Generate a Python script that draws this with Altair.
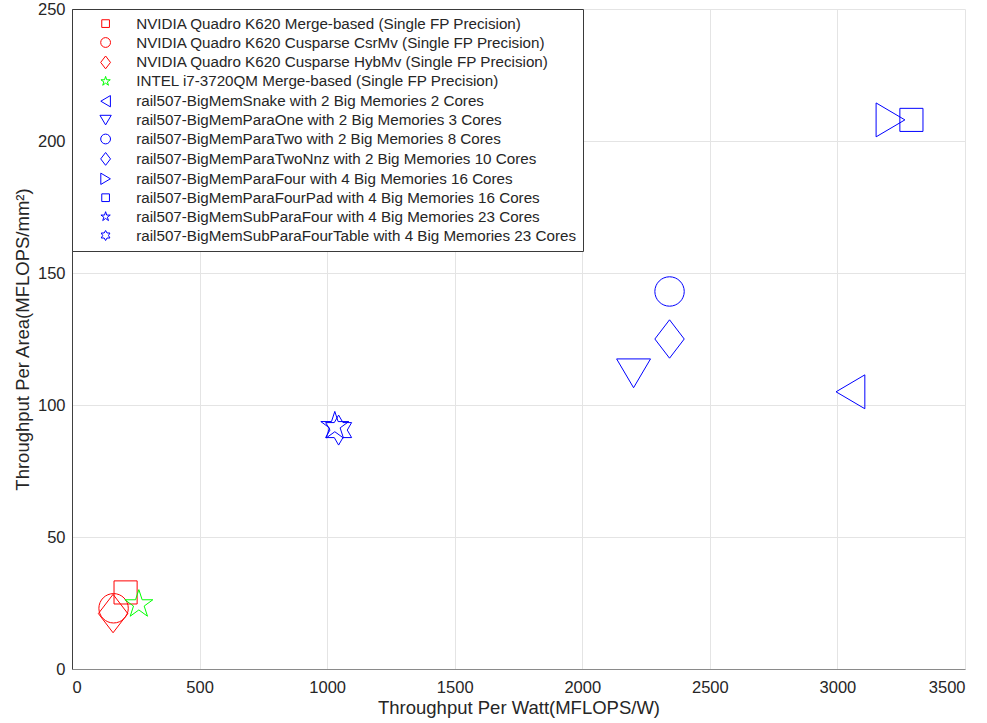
import math
import altair as alt
import pandas as pd

# ---- data ----
series = [
    "NVIDIA Quadro K620 Merge-based (Single FP Precision)",
    "NVIDIA Quadro K620 Cusparse CsrMv (Single FP Precision)",
    "NVIDIA Quadro K620 Cusparse HybMv (Single FP Precision)",
    "INTEL i7-3720QM Merge-based (Single FP Precision)",
    "rail507-BigMemSnake with 2 Big Memories 2 Cores",
    "rail507-BigMemParaOne with 2 Big Memories 3 Cores",
    "rail507-BigMemParaTwo with 2 Big Memories 8 Cores",
    "rail507-BigMemParaTwoNnz with 2 Big Memories 10 Cores",
    "rail507-BigMemParaFour with 4 Big Memories 16 Cores",
    "rail507-BigMemParaFourPad with 4 Big Memories 16 Cores",
    "rail507-BigMemSubParaFour with 4 Big Memories 23 Cores",
    "rail507-BigMemSubParaFourTable with 4 Big Memories 23 Cores",
]
throughput_per_watt = [210, 163, 161, 262, 3051, 2201, 2342, 2342, 3208, 3290, 1030, 1045]
throughput_per_area = [29, 23, 21, 24.5, 105, 112, 143, 125, 208, 208, 92, 90.5]
colors = ["#ff0000", "#ff0000", "#ff0000", "#00ff00",
          "#0000ff", "#0000ff", "#0000ff", "#0000ff",
          "#0000ff", "#0000ff", "#0000ff", "#0000ff"]
x_ticks = [0, 500, 1000, 1500, 2000, 2500, 3000, 3500]
y_ticks = [0, 50, 100, 150, 200, 250]

# ---- marker shapes (SVG paths in unit space) ----
def poly(pts):
    return "M" + " L".join(f"{x:.3f},{y:.3f}" for x, y in pts) + " Z"

def star(n, R, r):
    pts = []
    for k in range(2 * n):
        ang = math.radians(-90 + k * 180.0 / n)
        rad = R if k % 2 == 0 else r
        pts.append((rad * math.cos(ang), rad * math.sin(ang)))
    return poly(pts)

circle = "M-0.98,0 A0.98,0.98 0 1 0 0.98,0 A0.98,0.98 0 1 0 -0.98,0 Z"
square = poly([(-0.77, -0.77), (0.77, -0.77), (0.77, 0.77), (-0.77, 0.77)])
diamond = poly([(0, -1.28), (0.98, 0), (0, 1.28), (-0.98, 0)])
tri_down = poly([(-1.13, -0.96), (1.13, -0.96), (0, 0.96)])
tri_left = poly([(-0.96, 0), (0.96, -1.13), (0.96, 1.13)])
tri_right = poly([(0.96, 0), (-0.96, -1.13), (-0.96, 1.13)])
pentagram = star(5, 0.98, 0.98 * 0.382)
hexagram = star(6, 1.0, 1.0 / math.sqrt(3))

shapes = [square, circle, diamond, pentagram,
          tri_left, tri_down, circle, diamond,
          tri_right, square, pentagram, hexagram]

df = pd.DataFrame({"series": series, "x": throughput_per_watt, "y": throughput_per_area})

FONT = "Liberation Sans"
TXT = "#262626"

chart = alt.Chart(df).mark_point(filled=False, size=900, strokeWidth=1, opacity=1).encode(
    x=alt.X("x:Q",
            scale=alt.Scale(domain=[0, 3500], nice=False, zero=False),
            axis=alt.Axis(values=x_ticks, format="d", title="Throughput Per Watt(MFLOPS/W)",
                          tickSize=0, labelPadding=10, titlePadding=3,
                          domainColor="#8a8a8a")),
    y=alt.Y("y:Q",
            scale=alt.Scale(domain=[0, 250], nice=False, zero=False),
            axis=alt.Axis(values=y_ticks, format="d", title="Throughput Per Area(MFLOPS/mm²)",
                          tickSize=0, labelPadding=7, titlePadding=5,
                          domainColor="#404040")),
    color=alt.Color("series:N",
                    scale=alt.Scale(domain=series, range=colors),
                    legend=alt.Legend(title=None, orient="none", legendX=0, legendY=0,
                                      symbolSize=100, symbolStrokeWidth=1,
                                      symbolOffset=19, labelOffset=23,
                                      labelFontSize=15.2, labelFont=FONT, labelColor=TXT,
                                      labelLimit=700, rowPadding=2.9,
                                      padding=7, strokeColor="#3a3a3a", fillColor="white",
                                      cornerRadius=0, symbolFillColor="transparent")),
    shape=alt.Shape("series:N",
                    scale=alt.Scale(domain=series, range=shapes),
                    legend=alt.Legend(title=None, orient="none", legendX=0, legendY=0)),
).properties(
    width=893, height=660,
    padding={"left": 72, "top": 9, "right": 22, "bottom": 54},
    autosize=alt.AutoSizeParams(type="none"),
).configure_view(stroke=None).configure_axis(
    grid=True, gridColor="#e4e4e4", gridWidth=1,
    labelFont=FONT, labelFontSize=16.5, labelColor=TXT,
    titleFont=FONT, titleFontSize=18.5, titleColor=TXT, titleFontWeight="normal",
    domainWidth=1,
)

chart.save("out.html", embed_options={"renderer": "svg", "actions": False})
